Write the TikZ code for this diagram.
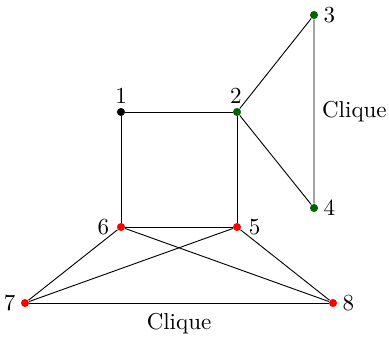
\documentclass[tikz,border=0pt]{standalone}
\usepackage{amsmath,amssymb}
\usepackage{tikz}

\definecolor{dkgreen}{RGB}{0,100,0}
\tikzset{
  vtx/.style={circle,fill=#1,inner sep=0pt,minimum size=3.5pt},
  vtx/.default=black
}

\begin{document}
\begin{tikzpicture}[x=0.435pt,y=-0.435pt]
\useasboundingbox (0,0) rectangle (389,338);
\node[vtx,label={[inner sep=1.5pt]above:1}] (v1) at (121,112) {};
\node[vtx=dkgreen,label={[inner sep=1.5pt,xshift=-0.5pt]above:2}] (v2) at (237,112) {};
\node[vtx=dkgreen,label={[inner sep=2pt]right:3}] (v3) at (314,15) {};
\node[vtx=dkgreen,label={[inner sep=2pt]right:4}] (v4) at (314,208) {};
\node[vtx=red,label={[inner sep=3pt]right:5}] (v5) at (237,227) {};
\node[vtx=red,label={[inner sep=3pt]left:6}] (v6) at (121,227) {};
\node[vtx=red,label={[inner sep=2pt]left:7}] (v7) at (25,303) {};
\node[vtx=red,label={[inner sep=2pt]right:8}] (v8) at (333,303) {};
\draw (v1) -- (v2) -- (v5) -- (v6) -- (v1);
\draw (v2) -- (v3) -- node[right]{Clique} (v4) -- (v2);
\draw (v7) -- node[below,yshift=-1pt]{Clique} (v8);
\draw (v6) -- (v7); \draw (v6) -- (v8);
\draw (v5) -- (v7); \draw (v5) -- (v8);
\end{tikzpicture}
\end{document}
